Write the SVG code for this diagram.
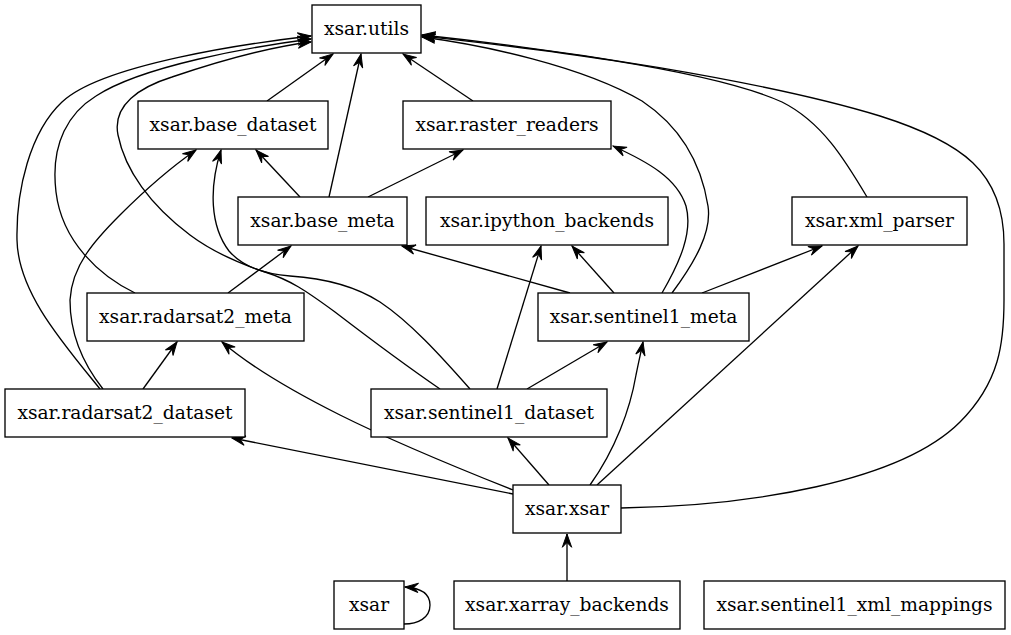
<svg xmlns="http://www.w3.org/2000/svg" width="1011" height="635" viewBox="0 0 1011 635">
<style>
.n rect{fill:#fff;stroke:#000;stroke-width:1.33}
.n text{font-family:"DejaVu Serif","Liberation Serif",serif;font-size:18.67px;text-anchor:middle;fill:#000}
#edges path{fill:none;stroke:#000;stroke-width:1.33;marker-end:url(#ah)}
</style>
<defs>
<marker id="ah" markerUnits="userSpaceOnUse" viewBox="-14 -6 15 12" refX="0" refY="0" markerWidth="15" markerHeight="12" orient="auto">
<path d="M0,0 L-13.3,-4.7 L-8.5,0 L-13.3,4.7 Z" fill="#000" stroke="#000" stroke-width="1"/>
</marker>
</defs>
<rect width="1011" height="635" fill="#fff"/>
<g id="edges">
<path d="M267,101 L333,54"/>
<path d="M329,197 L361,54"/>
<path d="M473,101 L403,54"/>
<path d="M300,197 L256,150"/>
<path d="M368,197 L463,150"/>
<path d="M228,293 L291,246"/>
<path d="M570,293 L402,246"/>
<path d="M614,293 L572,246"/>
<path d="M702,293 L822,246"/>
<path d="M662,293 C680,262 693,232 686,206 C677,178 648,162 613,146"/>
<path d="M672,293 C695,262 712,232 708,206 C701,162 681,127 642,101 C582,66 483,45 422,37"/>
<path d="M867,197 C845,160 822,122 782,102 C702,66 502,45 422,36"/>
<path d="M621,508 C750,506 900,482 960,422 C1000,382 1004,342 1004,300 L1004,244 C1004,172 962,142 880,116 C762,80 562,50 422,35"/>
<path d="M135,293 C100,276 62,242 56,192 C50,142 70,112 96,96 C142,66 250,47 311,39"/>
<path d="M100,389 C62,342 18,292 17,240 C16,190 30,132 62,102 C102,64 250,43 311,36"/>
<path d="M440,389 C405,365 365,335 335,312 C305,290 290,280 265,272 C235,262 210,250 190,235 C150,205 125,170 118,135 C112,105 140,87 172,77 C222,60 270,47 311,42"/>
<path d="M470,389 C440,355 410,322 380,302 C352,284 320,278 290,276 C262,274 242,266 229,251 C210,226 209,188 221,150"/>
<path d="M103,389 C80,360 70,330 70,300 C72,265 95,240 120,215 C145,190 170,168 196,150"/>
<path d="M143,389 L177,342"/>
<path d="M497,389 L541,246"/>
<path d="M527,389 L607,342"/>
<path d="M513,494 L232,438"/>
<path d="M513,490 C450,465 390,440 340,415 C290,390 250,366 222,342"/>
<path d="M549,485 L508,438"/>
<path d="M590,485 C615,450 630,410 636,375 C639,360 641,352 643,342"/>
<path d="M597,485 L858,246"/>
<path d="M567,581 L567,534"/>
<path d="M404,624 C418,624 430,618 430,605 C430,594 421,588 405,587"/>
</g>
<g id="xsar.utils" class="n"><rect x="312" y="5" width="109" height="48"/><text x="366.5" y="35">xsar.utils</text></g>
<g id="xsar.base_dataset" class="n"><rect x="138" y="101" width="190" height="48"/><text x="233" y="131">xsar.base_dataset</text></g>
<g id="xsar.raster_readers" class="n"><rect x="403" y="101" width="208" height="48"/><text x="507" y="131">xsar.raster_readers</text></g>
<g id="xsar.base_meta" class="n"><rect x="238" y="197" width="169" height="48"/><text x="322.5" y="227">xsar.base_meta</text></g>
<g id="xsar.ipython_backends" class="n"><rect x="426" y="197" width="242" height="48"/><text x="547" y="227">xsar.ipython_backends</text></g>
<g id="xsar.xml_parser" class="n"><rect x="792" y="197" width="175" height="48"/><text x="879.5" y="227">xsar.xml_parser</text></g>
<g id="xsar.radarsat2_meta" class="n"><rect x="87" y="293" width="217" height="48"/><text x="195.5" y="323">xsar.radarsat2_meta</text></g>
<g id="xsar.sentinel1_meta" class="n"><rect x="538" y="293" width="211" height="48"/><text x="643.5" y="323">xsar.sentinel1_meta</text></g>
<g id="xsar.radarsat2_dataset" class="n"><rect x="5" y="389" width="240" height="48"/><text x="125" y="419">xsar.radarsat2_dataset</text></g>
<g id="xsar.sentinel1_dataset" class="n"><rect x="371" y="389" width="236" height="48"/><text x="489" y="419">xsar.sentinel1_dataset</text></g>
<g id="xsar.xsar" class="n"><rect x="513" y="485" width="108" height="48"/><text x="567" y="515">xsar.xsar</text></g>
<g id="xsar" class="n"><rect x="334" y="581" width="70" height="48"/><text x="369" y="611">xsar</text></g>
<g id="xsar.xarray_backends" class="n"><rect x="454" y="581" width="226" height="48"/><text x="567" y="611">xsar.xarray_backends</text></g>
<g id="xsar.sentinel1_xml_mappings" class="n"><rect x="704" y="581" width="301" height="48"/><text x="854.5" y="611">xsar.sentinel1_xml_mappings</text></g>
</svg>
